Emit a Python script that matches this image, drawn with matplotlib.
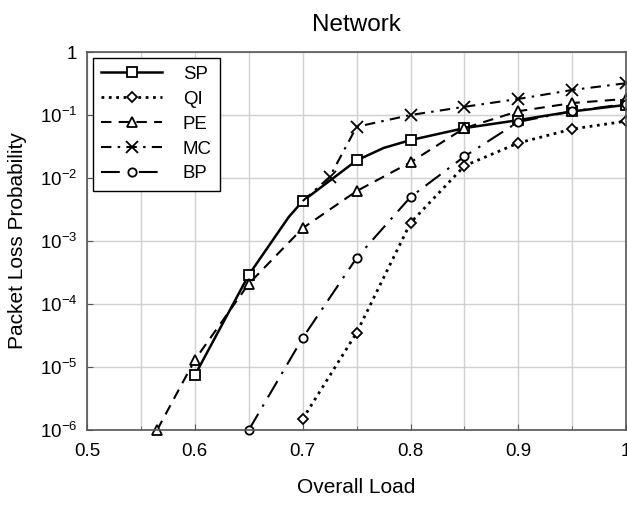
import numpy as np
import matplotlib
matplotlib.use("Agg")
import matplotlib.pyplot as plt
from matplotlib.ticker import FixedLocator, FuncFormatter, NullLocator

plt.rcParams["font.family"] = ["Liberation Sans", "DejaVu Sans"]
plt.rcParams["mathtext.default"] = "regular"

# data
sp_x = [0.6, 0.65, 0.687, 0.7, 0.75, 0.775, 0.8, 0.85, 0.9, 0.95, 1.0]
sp_y = [7.4e-6, 2.9e-4, 2.4e-3, 4.3e-3, 0.019, 0.030, 0.040, 0.062, 0.083, 0.114, 0.145]
sp_mark = [0, 1, 3, 4, 6, 7, 8, 9, 10]

qi_x = [0.7, 0.75, 0.8, 0.85, 0.9, 0.95, 1.0]
qi_y = [1.5e-6, 3.5e-5, 1.95e-3, 0.0156, 0.036, 0.060, 0.080]

pe_x = [0.565, 0.6, 0.65, 0.7, 0.75, 0.8, 0.85, 0.9, 0.95, 1.0]
pe_y = [1e-6, 1.3e-5, 2.1e-4, 1.6e-3, 6.2e-3, 0.0178, 0.062, 0.115, 0.155, 0.18]

mc_x = [0.7, 0.725, 0.75, 0.8, 0.85, 0.9, 0.95, 1.0]
mc_y = [4.3e-3, 0.0104, 0.065, 0.10, 0.135, 0.18, 0.25, 0.32]
mc_mark = [1, 2, 3, 4, 5, 6, 7]

bp_x = [0.65, 0.7, 0.75, 0.8, 0.85, 0.9, 0.95, 1.0]
bp_y = [1e-6, 2.9e-5, 5.4e-4, 5.0e-3, 0.022, 0.078, 0.115, 0.15]

fig = plt.figure(figsize=(6.27, 5.05), dpi=100)
ax = fig.add_axes([0.1388, 0.1485, 0.860, 0.7485])

mk = dict(markerfacecolor="white", markeredgecolor="black", markeredgewidth=1.3,
          color="black", clip_on=False)
ax.plot(sp_x, sp_y, "-", marker="s", markersize=7, markevery=sp_mark, lw=1.8, label="SP", **mk)
ax.plot(qi_x, qi_y, ":", marker="D", markersize=5.5, lw=2.0, label="QI", **mk)
ax.plot(pe_x, pe_y, linestyle=(0, (5, 3.5)), marker="^", markersize=7.5, lw=1.5, label="PE", **mk)
ax.plot(mc_x, mc_y, linestyle=(0, (5, 3, 1.2, 3)), marker="x", markersize=8, markevery=mc_mark, lw=1.5, label="MC", **mk)
ax.plot(bp_x, bp_y, linestyle=(0, (9, 4, 1.2, 4)), marker="o", markersize=6, lw=1.5, label="BP", **mk)

ax.set_yscale("log")
ax.set_xlim(0.5, 1.0)
ax.set_ylim(1e-6, 1)

ax.xaxis.set_major_locator(FixedLocator([0.5, 0.6, 0.7, 0.8, 0.9, 1.0]))
ax.xaxis.set_minor_locator(FixedLocator([0.55, 0.65, 0.75, 0.85, 0.95]))
ax.xaxis.set_major_formatter(FuncFormatter(lambda v, p: "1" if abs(v - 1) < 1e-9 else f"{v:.1f}"))
ax.yaxis.set_major_locator(FixedLocator([10.0 ** k for k in range(-6, 1)]))
ax.yaxis.set_minor_locator(NullLocator())

def ylab(v, p):
    k = int(round(np.log10(v)))
    return "1" if k == 0 else r"$10^{%d}$" % k

ax.yaxis.set_major_formatter(FuncFormatter(ylab))

ax.grid(True, which="both", color="#d0d0d0", lw=1.0)
ax.set_axisbelow(True)
ax.tick_params(which="both", direction="in", length=4, color="#555555", labelsize=13.5)
ax.tick_params(axis="x", pad=9)
ax.tick_params(axis="y", pad=7)
ax.tick_params(which="minor", length=3)
for s in ax.spines.values():
    s.set_color("#555555")
    s.set_linewidth(1.2)

ax.set_title("Network", fontsize=17.5, pad=15)
ax.set_xlabel("Overall Load", fontsize=15, labelpad=13)
ax.set_ylabel("Packet Loss Probability", fontsize=15, labelpad=9)

leg = ax.legend(loc="upper left", numpoints=1, fontsize=13.4, handlelength=3.3,
                borderaxespad=0.3, fancybox=False, framealpha=1, edgecolor="black",
                handletextpad=1.1, labelspacing=0.42, borderpad=0.45)
leg.get_frame().set_linewidth(1.0)

fig.savefig("out.png", dpi=100)
